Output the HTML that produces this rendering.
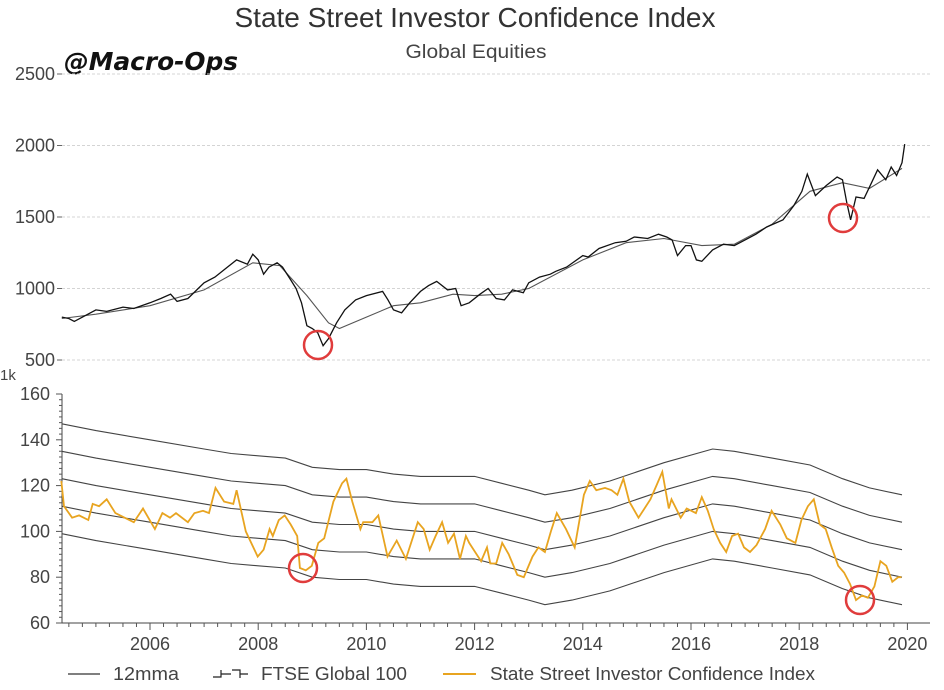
<!DOCTYPE html>
<html><head><meta charset="utf-8"><style>
body{margin:0;background:#fff;}
svg{display:block;font-family:"Liberation Sans",sans-serif;}
</style></head><body>
<svg id="c" width="944" height="690">
<text x="475" y="27" text-anchor="middle" font-size="28" fill="#333" textLength="481" lengthAdjust="spacingAndGlyphs">State Street Investor Confidence Index</text>
<text x="476" y="58" text-anchor="middle" font-size="19" fill="#444" textLength="141" lengthAdjust="spacingAndGlyphs">Global Equities</text>
<text x="64" y="70" font-size="25" font-weight="bold" font-style="italic" fill="#111" font-family="DejaVu Sans, sans-serif" textLength="174" lengthAdjust="spacingAndGlyphs">@Macro-Ops</text>
<g id="topG"></g>
<g id="botG"></g>
<g id="leg">
<line x1="68" y1="674" x2="100" y2="674" stroke="#333" stroke-width="1.2"/>
<text x="113" y="680" font-size="18" fill="#444" textLength="66" lengthAdjust="spacingAndGlyphs">12mma</text>
<path d="M213 677 H221 V670 M221 674 H231 M232 670 H240 V678 M240 674 H248" stroke="#222" fill="none" stroke-width="1.2"/>
<text x="261" y="680" font-size="18" fill="#444" textLength="146" lengthAdjust="spacingAndGlyphs">FTSE Global 100</text>
<line x1="443" y1="674" x2="476" y2="674" stroke="#e8a420" stroke-width="2"/>
<text x="490" y="680" font-size="18" fill="#444" textLength="325" lengthAdjust="spacingAndGlyphs">State Street Investor Confidence Index</text>
</g>
</svg>
<script>
const ftseYears=[2004.37,2004.5,2004.6,2004.8,2005.0,2005.2,2005.5,2005.7,2006.0,2006.2,2006.38,2006.5,2006.7,2007.0,2007.2,2007.4,2007.6,2007.8,2007.9,2008.0,2008.1,2008.2,2008.35,2008.45,2008.6,2008.7,2008.8,2008.9,2009.0,2009.1,2009.2,2009.3,2009.45,2009.6,2009.8,2010.0,2010.3,2010.4,2010.5,2010.65,2010.8,2011.0,2011.15,2011.3,2011.5,2011.65,2011.75,2011.9,2012.1,2012.25,2012.4,2012.55,2012.7,2012.9,2013.0,2013.2,2013.4,2013.5,2013.7,2014.0,2014.1,2014.3,2014.6,2014.8,2014.95,2015.2,2015.4,2015.55,2015.65,2015.75,2015.9,2016.0,2016.1,2016.2,2016.4,2016.6,2016.8,2017.0,2017.2,2017.4,2017.7,2017.9,2018.05,2018.15,2018.3,2018.5,2018.7,2018.8,2018.88,2018.95,2019.05,2019.2,2019.35,2019.45,2019.6,2019.7,2019.8,2019.9,2019.95];
const ftseValues=[800,790,770,810,850,840,870,860,900,930,960,910,930,1040,1080,1140,1200,1170,1240,1200,1100,1150,1180,1150,1060,1000,900,740,720,690,600,650,760,850,920,950,980,920,850,830,900,980,1020,1050,990,1000,880,900,960,1000,930,920,990,970,1040,1080,1100,1120,1150,1230,1220,1280,1320,1330,1360,1350,1380,1360,1340,1230,1300,1300,1200,1190,1270,1310,1300,1340,1380,1430,1480,1580,1680,1800,1650,1720,1780,1760,1600,1480,1640,1630,1750,1830,1760,1850,1790,1880,2010];
const maYears=[2004.37,2005.0,2006.0,2007.0,2007.9,2008.4,2008.9,2009.3,2009.5,2010.0,2010.5,2011.0,2011.6,2012.0,2012.5,2013.0,2014.0,2014.8,2015.5,2016.2,2016.8,2017.5,2018.2,2018.8,2019.3,2019.9];
const maValues=[790,820,880,990,1180,1160,950,760,720,800,880,900,960,950,960,1000,1200,1320,1350,1300,1310,1450,1680,1740,1700,1840];
const bandYears=[2004.37,2005.0,2006.0,2007.0,2007.5,2008.0,2008.5,2009.0,2009.5,2010.0,2010.5,2011.0,2011.5,2012.0,2012.5,2013.0,2013.3,2013.8,2014.5,2015.5,2016.4,2016.8,2017.5,2018.2,2018.8,2019.3,2019.9];
const bandCenter=[123,120,116,112,110,109,108,104,103,103,101,100,100,100,97,94,92,94,98,106,112,111,108,105,99,95,92];
const bandOffsets=[24,12,0,-12,-24];
const ssciYears=[2004.36,2004.41,2004.56,2004.69,2004.86,2004.94,2005.06,2005.20,2005.36,2005.53,2005.70,2005.87,2006.09,2006.23,2006.37,2006.48,2006.70,2006.82,2006.98,2007.09,2007.21,2007.37,2007.54,2007.60,2007.77,2007.99,2008.10,2008.21,2008.27,2008.38,2008.49,2008.60,2008.72,2008.77,2008.88,2008.99,2009.11,2009.22,2009.39,2009.55,2009.63,2009.74,2009.89,2009.94,2010.11,2010.22,2010.39,2010.56,2010.73,2010.95,2011.06,2011.17,2011.28,2011.40,2011.51,2011.62,2011.73,2011.84,2011.90,2012.01,2012.12,2012.23,2012.29,2012.40,2012.51,2012.63,2012.79,2012.91,2013.07,2013.18,2013.30,2013.41,2013.52,2013.69,2013.85,2014.02,2014.13,2014.25,2014.41,2014.53,2014.64,2014.75,2014.86,2015.03,2015.14,2015.25,2015.36,2015.47,2015.59,2015.64,2015.81,2015.92,2016.09,2016.20,2016.31,2016.42,2016.54,2016.65,2016.76,2016.87,2016.98,2017.09,2017.21,2017.37,2017.49,2017.65,2017.77,2017.93,2018.04,2018.16,2018.27,2018.38,2018.49,2018.60,2018.72,2018.83,2018.94,2019.05,2019.16,2019.27,2019.39,2019.50,2019.61,2019.72,2019.83,2019.89];
const ssciValues=[122,111,106,107,105,112,111,114,108,106,104,110,101,108,106,108,104,108,109,108,119,113,112,118,100,89,92,101,98,105,107,103,98,84,83,85,95,97,113,121,123,113,101,104,104,107,89,96,88,104,101,92,98,104,95,99,88,98,95,91,87,93,86,86,95,90,81,80,89,93,91,100,108,101,93,116,122,118,119,118,116,123,113,106,110,114,120,126,110,114,106,110,108,115,109,101,95,91,98,99,93,91,94,101,109,103,97,95,105,111,114,103,101,93,85,82,77,70,72,71,76,87,85,78,80,80];
const topTicks=[500,1000,1500,2000,2500];
const botTicks=[60,80,100,120,140,160];
const xTicks=[2006,2008,2010,2012,2014,2016,2018,2020];

const NS='http://www.w3.org/2000/svg';
function mk(p,t,a){const e=document.createElementNS(NS,t);for(const k in a)e.setAttribute(k,a[k]);p.appendChild(e);return e;}
const X=y=>150+(y-2006)*54.1;
const YT=v=>360-(v-500)*(286/2000);
const YB=v=>623-(v-60)*2.29;
const path=(xs,vs,fy)=>xs.map((x,i)=>(i?'L':'M')+X(x).toFixed(1)+' '+fy(vs[i]).toFixed(1)).join(' ');
const topP=document.getElementById('topG'),botP=document.getElementById('botG');

topTicks.forEach(v=>{
 const g=mk(topP,'line',{x1:62,x2:930,y1:YT(v),y2:YT(v),stroke:'#d4d4d4','stroke-dasharray':'3,2'});
 
 
 const tk=mk(topP,'line',{x1:57,x2:62,y1:YT(v),y2:YT(v),stroke:'#666'});
 
 
 const t=mk(topP,'text',{x:55,y:YT(v)+6,'text-anchor':'end','font-size':18,fill:'#444'});t.textContent=v;
 
 
});
const k=mk(topP,'text',{x:0,y:380,'font-size':15,fill:'#444'});k.textContent='1k';


const ma=mk(topP,'path',{d:path(maYears,maValues,YT),fill:'none',stroke:'#555','stroke-width':1.1});


const fl=mk(topP,'path',{d:path(ftseYears,ftseValues,YT),fill:'none',stroke:'#111','stroke-width':1.3});



const ay=mk(botP,'line',{x1:62,x2:62,y1:394,y2:623,stroke:'#444'});


const ax=mk(botP,'line',{x1:62,x2:930,y1:623,y2:623,stroke:'#444'});


for(let v=60;v<=160;v+=2.5){
 const m=mk(botP,'line',{x1:v%20==0?56:59,x2:62,y1:YB(v),y2:YB(v),stroke:'#555'});
 
 
}
botTicks.forEach(v=>{
 const t=mk(botP,'text',{x:50,y:YB(v)+6,'text-anchor':'end','font-size':18,fill:'#444'});t.textContent=v;
 
 
});
for(let y=2004.5;y<=2020.01;y+=0.25){
 const m=mk(botP,'line',{x1:X(y),x2:X(y),y1:623,y2:Math.abs(y-Math.round(y/2)*2)<0.01?630:627,stroke:'#555'});
 
 
}
xTicks.forEach(y=>{
 const t=mk(botP,'text',{x:X(y),y:650,'text-anchor':'middle','font-size':18,fill:'#444'});t.textContent=y;
 
 
});
bandOffsets.forEach(o=>{
 const p=mk(botP,'path',{d:path(bandYears,bandCenter.map(c=>c+o),YB),fill:'none',stroke:'#444','stroke-width':1.1});
 
 
});
const sl=mk(botP,'path',{d:path(ssciYears,ssciValues,YB),fill:'none',stroke:'#e8a420','stroke-width':1.8});



const svg=document.getElementById('c');
[[318,345],[843,218],[303,568],[860,600]].forEach(([cx,cy])=>{
 const c=mk(svg,'circle',{cx,cy,r:14,fill:'none',stroke:'#e03c3c','stroke-width':2.5});
 
 
});
</script>
</body></html>
